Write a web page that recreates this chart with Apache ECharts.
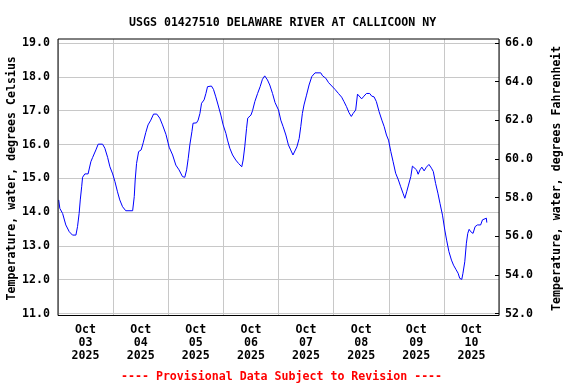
<!DOCTYPE html>
<html>
<head>
<meta charset="utf-8">
<script src="https://cdn.jsdelivr.net/npm/echarts@6/dist/echarts.min.js"></script>
<style>html,body{margin:0;padding:0;background:#fff}#c{width:576px;height:384px}</style>
</head>
<body>
<div id="c"></div>
<script>
// Hours since Oct 03 2025 00:00
var hours = [0.3,0.8,2.0,3.4,4.9,6.3,7.8,8.5,9.2,9.7,10.3,10.7,11.7,13.1,14.3,15.1,15.8,16.5,17.5,19.4,20.4,21.6,22.6,23.8,24.8,25.9,26.9,28.1,29.5,32.5,33.2,33.6,34.2,35.1,36.2,37.1,38.2,39.2,40.4,41.6,43.0,44.3,45.5,47.0,48.4,49.9,51.3,52.7,54.2,55.2,56.0,56.7,57.4,58.3,58.8,60.3,61.0,61.8,62.5,63.6,64.4,65.1,66.8,67.7,68.7,69.7,70.9,71.9,73.1,73.8,74.8,76.0,77.4,78.6,80.0,80.6,81.3,82.1,82.6,84.0,84.7,85.7,86.9,88.0,89.0,90.0,91.2,92.2,93.4,94.5,96.0,97.0,98.0,99.2,100.3,101.3,102.3,103.1,104.0,105.0,105.7,106.4,107.1,108.2,109.3,110.5,111.9,114.4,115.2,116.6,117.8,119.2,120.6,122.1,123.5,124.5,125.6,126.7,127.7,128.5,129.6,130.4,131.1,132.2,133.2,134.3,135.7,136.6,137.6,138.6,139.8,141.0,142.0,143.0,143.9,144.9,145.9,147.0,148.2,149.2,150.2,151.0,151.8,152.6,153.6,154.3,155.0,156.1,156.8,157.6,158.4,159.4,160.4,161.5,162.6,163.4,164.4,165.4,166.3,167.4,168.4,169.2,170.2,171.3,172.2,173.2,174.2,174.9,175.8,176.3,177.1,177.8,178.4,179.0,179.7,180.7,181.6,182.6,184.0,184.8,185.5,186.5,186.7];
var tempC = [14.36,14.11,13.96,13.62,13.42,13.32,13.32,13.57,13.96,14.36,14.75,15.03,15.13,15.13,15.49,15.62,15.64,15.84,16.01,16.01,15.89,15.62,15.34,15.13,14.90,14.60,14.36,14.16,14.04,14.04,14.46,14.95,15.44,15.79,15.84,16.05,16.35,16.58,16.72,16.90,16.90,16.78,16.58,16.30,15.92,15.69,15.39,15.25,15.05,15.03,15.25,15.59,15.99,16.38,16.63,16.64,16.72,16.92,17.22,17.32,17.51,17.71,17.73,17.63,17.41,17.17,16.87,16.58,16.33,16.13,15.89,15.69,15.54,15.44,15.34,15.54,15.93,16.48,16.78,16.87,17.00,17.27,17.51,17.71,17.93,18.03,17.91,17.76,17.51,17.24,17.02,16.72,16.53,16.28,15.99,15.84,15.69,15.64,15.93,16.18,16.53,16.92,17.17,17.46,17.76,18.01,18.12,18.12,18.03,17.96,17.83,17.73,17.63,17.51,17.40,17.27,17.12,16.94,16.83,16.92,17.02,17.49,17.51,17.35,17.43,17.51,17.51,17.43,17.41,17.27,16.97,16.72,16.53,16.28,16.13,15.79,15.49,15.15,14.95,14.75,14.56,14.41,14.60,14.80,15.05,15.36,15.41,15.25,15.12,15.25,15.33,15.22,15.33,15.41,15.30,15.20,14.85,14.56,14.26,13.91,13.47,13.17,12.83,12.58,12.43,12.31,12.19,12.04,12.01,12.19,12.53,13.08,13.37,13.49,13.42,13.37,13.57,13.62,13.62,13.77,13.82,13.82,13.69];
var dayLabels = ['Oct\n03\n2025','Oct\n04\n2025','Oct\n05\n2025','Oct\n06\n2025','Oct\n07\n2025','Oct\n08\n2025','Oct\n09\n2025','Oct\n10\n2025'];
var titleText = 'USGS 01427510 DELAWARE RIVER AT CALLICOON NY';
var footText = '---- Provisional Data Subject to Revision ----';
var leftName = 'Temperature, water, degrees Celsius';
var rightName = 'Temperature, water, degrees Fahrenheit';

var FONT = 'DejaVu Sans Mono';
var FS = 11.6;
var data = hours.map(function (h, i) { return [h, tempC[i]]; });
var chart = echarts.init(document.getElementById('c'), null, {renderer: 'canvas'});
chart.setOption({
  animation: false,
  backgroundColor: '#fff',
  title: [
    {text: titleText, left: 124, top: 12, textStyle: {fontFamily: FONT, fontSize: FS, fontWeight: 'bold', color: '#000'}},
    {text: footText, left: 116, top: 366, textStyle: {fontFamily: FONT, fontSize: FS, fontWeight: 'bold', color: '#ff0000'}}
  ],
  grid: [
    {left: 58, right: 77, top: 39, bottom: 68.5, show: true, borderColor: '#000', borderWidth: 1, backgroundColor: 'transparent', z: 5, containLabel: false, outerBoundsMode: 'none'},
    {left: 58, right: 77, top: 43.1, bottom: 70.5, containLabel: false, outerBoundsMode: 'none'}
  ],
  xAxis: [
    {type: 'value', gridIndex: 0, min: 0, max: 192, interval: 24,
     axisLine: {show: false}, axisTick: {show: false}, axisLabel: {show: false},
     splitLine: {show: true, lineStyle: {color: '#c8c8c8', width: 1}}},
    {type: 'value', gridIndex: 1, min: 0, max: 192, interval: 12,
     axisLine: {show: false}, axisTick: {show: false}, splitLine: {show: false},
     axisLabel: {show: true, margin: 10, fontFamily: FONT, fontSize: FS, fontWeight: 'bold', color: '#000', lineHeight: 13,
       showMinLabel: false, showMaxLabel: false, hideOverlap: false,
       formatter: function (v) { return (v % 24 === 12) ? dayLabels[(v - 12) / 24] : ''; }}}
  ],
  yAxis: [
    {type: 'value', gridIndex: 0, min: 0, max: 1, show: false, splitLine: {show: false}},
    {type: 'value', gridIndex: 1, position: 'left', min: 11, max: 19, interval: 1,
     axisLine: {show: false}, axisTick: {show: false},
     splitLine: {show: true, lineStyle: {color: '#c8c8c8', width: 1}},
     axisLabel: {margin: 8, fontFamily: FONT, fontSize: FS, fontWeight: 'bold', color: '#000', formatter: function (v) { return v.toFixed(1); }},
     name: leftName, nameLocation: 'middle', nameRotate: 90, nameGap: 40, nameMoveOverlap: false,
     nameTextStyle: {fontFamily: FONT, fontSize: FS, fontWeight: 'bold', color: '#000'}},
    {type: 'value', gridIndex: 1, position: 'right', min: 52, max: 66, interval: 2,
     axisLine: {show: false}, axisTick: {show: true, inside: true, length: 4, lineStyle: {color: '#000'}},
     splitLine: {show: false},
     axisLabel: {margin: 6, fontFamily: FONT, fontSize: FS, fontWeight: 'bold', color: '#000', formatter: function (v) { return v.toFixed(1); }},
     name: rightName, nameLocation: 'middle', nameRotate: 90, nameGap: 52, nameMoveOverlap: false,
     nameTextStyle: {fontFamily: FONT, fontSize: FS, fontWeight: 'bold', color: '#000'}}
  ],
  series: [{
    type: 'line', xAxisIndex: 1, yAxisIndex: 1, data: data, showSymbol: false, symbol: 'none',
    lineStyle: {color: '#0000ff', width: 1}, z: 3
  }]
});
</script>
</body>
</html>
